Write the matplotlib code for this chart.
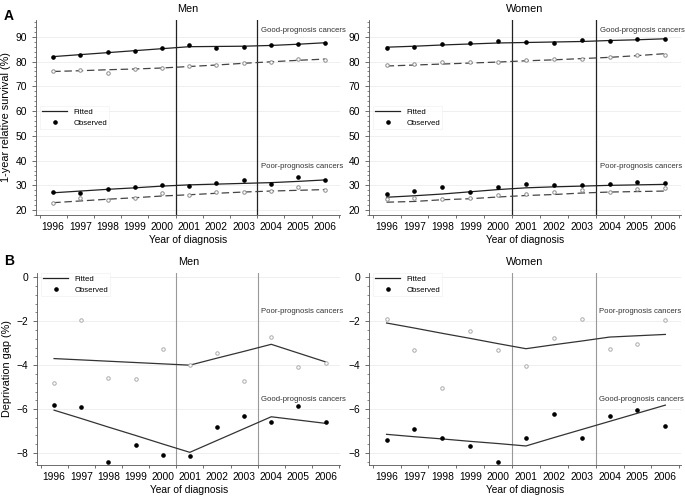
import matplotlib

matplotlib.use("Agg")
import matplotlib.pyplot as plt
import numpy as np
from matplotlib.lines import Line2D

plt.rcParams["font.family"] = ["Liberation Sans", "DejaVu Sans"]

YEARS = np.arange(1996, 2007)
BREAKS = [2000.5, 2003.5]

# panel A: 1-year relative survival (%)
men_good_obs = [82.0, 82.5, 84.0, 84.3, 85.3, 86.5, 85.5, 85.7, 86.5, 87.0, 87.3]
men_good_fit = [82.0, 82.8, 83.6, 84.4, 85.2, 86.0, 86.1, 86.2, 86.5, 87.0, 87.6]
men_good_obs2 = [76.0, 76.5, 75.5, 77.0, 77.3, 78.2, 78.5, 79.3, 80.0, 81.0, 80.6]
men_good_fit2 = [76.0, 76.3, 76.7, 77.0, 77.4, 78.0, 78.6, 79.3, 79.9, 80.5, 81.0]
men_poor_obs = [27.5, 27.0, 28.5, 29.5, 30.2, 29.7, 31.0, 32.2, 30.5, 33.5, 32.3]
men_poor_fit = [27.0, 27.7, 28.4, 29.0, 29.7, 30.2, 30.5, 30.8, 31.1, 31.6, 32.2]
men_poor_obs2 = [22.8, 25.0, 24.0, 25.0, 27.0, 26.0, 27.2, 27.5, 27.8, 29.3, 28.2]
men_poor_fit2 = [23.0, 23.7, 24.4, 25.0, 25.7, 26.2, 26.8, 27.3, 27.7, 28.0, 28.3]

women_good_obs = [85.5, 85.7, 87.2, 87.6, 88.3, 87.8, 87.3, 88.6, 88.2, 89.0, 89.2]
women_good_fit = [85.8, 86.2, 86.7, 87.1, 87.5, 87.7, 87.9, 88.1, 88.5, 88.8, 89.2]
women_good_obs2 = [78.5, 79.0, 80.0, 80.0, 80.0, 80.5, 81.0, 81.2, 82.0, 82.8, 82.5]
women_good_fit2 = [78.2, 78.6, 79.0, 79.4, 79.8, 80.3, 80.7, 81.2, 81.7, 82.4, 83.2]
women_poor_obs = [26.5, 27.8, 29.3, 27.2, 29.5, 30.5, 30.3, 30.3, 30.7, 31.5, 31.0]
women_poor_fit = [25.2, 25.8, 26.5, 27.4, 28.3, 29.0, 29.4, 29.7, 30.0, 30.2, 30.4]
women_poor_obs2 = [24.6, 24.7, 24.3, 25.0, 26.2, 26.7, 27.5, 28.3, 27.5, 28.5, 29.0]
women_poor_fit2 = [23.2, 23.5, 24.2, 24.6, 25.3, 25.9, 26.3, 26.9, 27.3, 27.5, 27.7]

# panel B: deprivation gap (%)
men_gap_poor_obs = [-4.8, -1.95, -4.6, -4.65, -3.25, -4.0, -3.45, -4.72, -2.7, -4.1, -3.9]
men_gap_poor_fit = [-3.7, -3.76, -3.82, -3.88, -3.94, -4.0, -3.68, -3.37, -3.05, -3.45, -3.85]
men_gap_good_obs = [-5.82, -5.92, -8.4, -7.62, -8.1, -8.12, -6.82, -6.32, -6.58, -5.88, -6.6]
men_gap_good_fit = [-6.05, -6.43, -6.82, -7.2, -7.59, -7.97, -7.43, -6.89, -6.35, -6.5, -6.65]

women_gap_poor_obs = [-1.9, -3.3, -5.05, -2.45, -3.32, -4.05, -2.75, -1.88, -3.27, -3.05, -1.95]
women_gap_poor_fit = [-2.08, -2.31, -2.55, -2.78, -3.02, -3.25, -3.07, -2.9, -2.72, -2.66, -2.6]
women_gap_good_obs = [-7.4, -6.9, -7.3, -7.68, -8.42, -7.3, -6.22, -7.3, -6.3, -6.05, -6.75]
women_gap_good_fit = [-7.15, -7.26, -7.36, -7.47, -7.57, -7.68, -7.3, -6.93, -6.56, -6.19, -5.82]

DARK = "#222222"
GREY = "#8c8c8c"
FS = 7.4

fig = plt.figure(figsize=(6.85, 4.99), dpi=100)


def style(ax, yticks, yminor, ylim, vcolor, vlw):
    ax.set_xlim(1995.37, 2006.55)
    ax.set_ylim(*ylim)
    ax.set_xticks(YEARS)
    ax.set_xticklabels([str(y) for y in YEARS])
    ax.set_xticks(np.arange(1995.5, 2007, 1.0), minor=True)
    ax.tick_params(axis="x", which="major", length=0, labelsize=FS, pad=5)
    ax.tick_params(axis="x", which="minor", length=2.5, width=0.6, color="#555555")
    ax.set_yticks(yticks)
    ax.set_yticks(yminor, minor=True)
    ax.tick_params(axis="y", which="major", length=3, width=0.6, labelsize=FS, color="#555555")
    ax.tick_params(axis="y", which="minor", length=1.5, width=0.5, color="#555555")
    for s in ("top", "right"):
        ax.spines[s].set_visible(False)
    for s in ("left", "bottom"):
        ax.spines[s].set_linewidth(0.6)
        ax.spines[s].set_color("#555555")
    ax.grid(True, axis="y", which="major", color="#ececec", lw=0.6)
    ax.set_axisbelow(True)
    for b in BREAKS:
        ax.axvline(b, color=vcolor, lw=vlw, zorder=1)
    ax.set_xlabel("Year of diagnosis", fontsize=FS, labelpad=2)


def legend(ax, loc, anchor):
    handles = [
        Line2D([], [], color=DARK, lw=0.9, label="Fitted"),
        Line2D([], [], color="black", marker="o", ms=2.3, ls="none", label="Observed"),
    ]
    leg = ax.legend(handles=handles, loc=loc, bbox_to_anchor=anchor, fontsize=5.6,
                    frameon=True, fancybox=False, handlelength=3.2, borderpad=0.3,
                    labelspacing=0.5, handletextpad=0.8)
    leg.get_frame().set_edgecolor("#eeeeee")
    leg.get_frame().set_linewidth(0.5)


def survival(ax, title, good, good_fit, good2, good_fit2, poor, poor_fit, poor2, poor_fit2):
    for obs, fit in ((good, good_fit), (poor, poor_fit)):
        ax.plot(YEARS, fit, color=DARK, lw=0.9, zorder=3)
        ax.plot(YEARS, obs, "o", color="black", ms=2.3, zorder=4)
    for obs, fit in ((good2, good_fit2), (poor2, poor_fit2)):
        ax.plot(YEARS, fit, color="#444444", lw=0.9, ls=(0, (6, 3)), zorder=3)
        ax.plot(YEARS, obs, "o", mfc="white", mec=GREY, mew=0.7, ms=2.5, zorder=4)
    style(ax, np.arange(20, 91, 10), np.arange(18, 97, 2), (18.3, 96.8), DARK, 0.9)
    ax.set_title(title, fontsize=FS + 0.4, pad=6)
    ax.text(2003.65, 92.6, "Good-prognosis cancers", fontsize=5.6, color="#333333", va="center")
    ax.text(2003.65, 37.6, "Poor-prognosis cancers", fontsize=5.6, color="#333333", va="center")
    legend(ax, "center left", (0.0, 0.50))


def gap(ax, title, poor, poor_fit, good, good_fit):
    ax.plot(YEARS, poor_fit, color="#333333", lw=0.9, zorder=3)
    ax.plot(YEARS, poor, "o", mfc="white", mec="#aaaaaa", mew=0.7, ms=2.5, zorder=4)
    ax.plot(YEARS, good_fit, color="#333333", lw=0.9, zorder=3)
    ax.plot(YEARS, good, "o", color="black", ms=2.3, zorder=4)
    style(ax, np.arange(-8, 1, 2), np.arange(-8.4, 0.1, 0.4), (-8.55, 0.2), "#999999", 0.8)
    ax.set_title(title, fontsize=FS + 0.4, pad=6)
    ax.text(2003.62, -1.56, "Poor-prognosis cancers", fontsize=5.6, color="#333333", va="center")
    ax.text(2003.62, -5.55, "Good-prognosis cancers", fontsize=5.6, color="#333333", va="center")
    legend(ax, "upper left", (0.0, 1.02))


ax1 = fig.add_axes([0.0526, 0.569, 0.444, 0.391])
ax2 = fig.add_axes([0.5387, 0.569, 0.455, 0.391])
ax3 = fig.add_axes([0.054, 0.068, 0.443, 0.385])
ax4 = fig.add_axes([0.5387, 0.068, 0.455, 0.385])

survival(ax1, "Men", men_good_obs, men_good_fit, men_good_obs2, men_good_fit2,
         men_poor_obs, men_poor_fit, men_poor_obs2, men_poor_fit2)
survival(ax2, "Women", women_good_obs, women_good_fit, women_good_obs2, women_good_fit2,
         women_poor_obs, women_poor_fit, women_poor_obs2, women_poor_fit2)
gap(ax3, "Men", men_gap_poor_obs, men_gap_poor_fit, men_gap_good_obs, men_gap_good_fit)
gap(ax4, "Women", women_gap_poor_obs, women_gap_poor_fit, women_gap_good_obs, women_gap_good_fit)

ax1.set_ylabel("1-year relative survival (%)", fontsize=FS + 0.4, labelpad=3)
ax3.set_ylabel("Deprivation gap (%)", fontsize=FS + 0.4, labelpad=3)

fig.text(0.006, 0.982, "A", fontsize=10, fontweight="bold", va="top")
fig.text(0.006, 0.49, "B", fontsize=10, fontweight="bold", va="top")

fig.savefig("out.png", dpi=100)
